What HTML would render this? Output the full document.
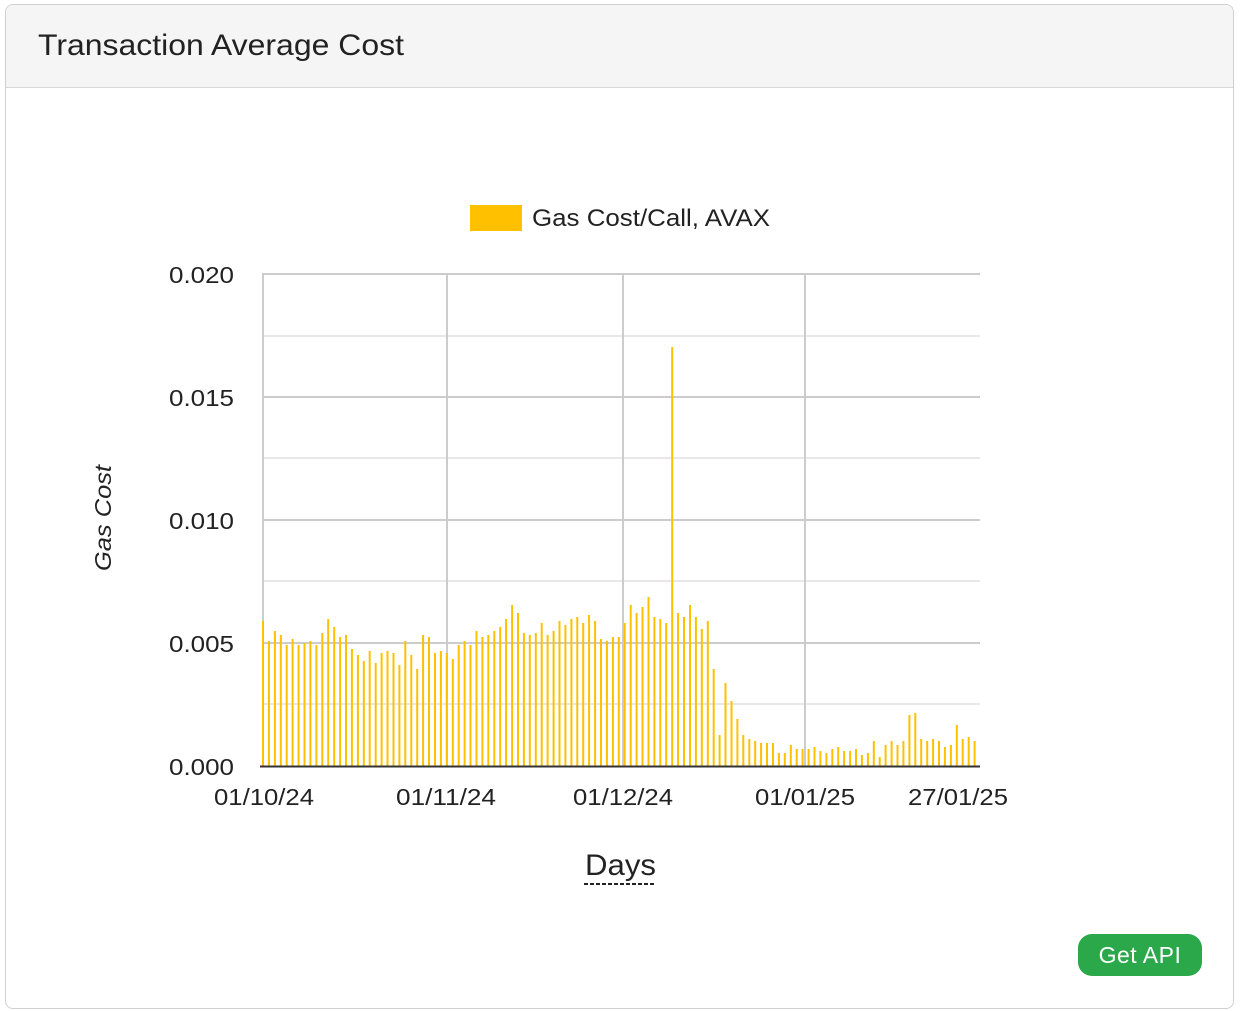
<!DOCTYPE html>
<html><head><style>
body{margin:0;background:#fff;font-family:"Liberation Sans",sans-serif;}
.card{position:absolute;left:5px;top:4px;width:1229px;height:1005px;border:1px solid #d0d0d0;border-radius:8px;overflow:hidden;box-sizing:border-box;}
.hdr{height:83px;background:#f5f5f5;border-bottom:1px solid #d8d8d8;box-sizing:border-box;}
.btn{position:absolute;left:1078px;top:934px;width:124px;height:42px;background:#2aa84a;border-radius:14px;color:#fff;font-size:23px;text-align:center;line-height:42px;letter-spacing:0.5px;}
svg{position:absolute;left:0;top:0;}
</style></head><body>
<div class="card"><div class="hdr"></div></div>
<svg width="1240" height="1011" id="s" font-family="Liberation Sans, sans-serif">
<text x="38" y="55" font-size="30" fill="#222" textLength="366" lengthAdjust="spacingAndGlyphs">Transaction Average Cost</text>
<g stroke="#e8e8e8" stroke-width="2">
<line x1="262" x2="980" y1="336" y2="336"/><line x1="262" x2="980" y1="458" y2="458"/><line x1="262" x2="980" y1="581" y2="581"/><line x1="262" x2="980" y1="704" y2="704"/>
</g>
<g stroke="#cccccc" stroke-width="2">
<line x1="262" x2="980" y1="274" y2="274"/><line x1="262" x2="980" y1="397" y2="397"/><line x1="262" x2="980" y1="520" y2="520"/><line x1="262" x2="980" y1="643" y2="643"/>
<line x1="263" x2="263" y1="274" y2="766"/><line x1="447" x2="447" y1="274" y2="766"/><line x1="623" x2="623" y1="274" y2="766"/><line x1="805" x2="805" y1="274" y2="766"/>
</g>
<g id="bars" fill="#ffc000"></g>
<line x1="260" x2="980" y1="766.5" y2="766.5" stroke="#333" stroke-width="2"/>
<g font-size="23" fill="#222">
<text x="169" y="283" textLength="65" lengthAdjust="spacingAndGlyphs">0.020</text>
<text x="169" y="406" textLength="65" lengthAdjust="spacingAndGlyphs">0.015</text>
<text x="169" y="529" textLength="65" lengthAdjust="spacingAndGlyphs">0.010</text>
<text x="169" y="652" textLength="65" lengthAdjust="spacingAndGlyphs">0.005</text>
<text x="169" y="775" textLength="65" lengthAdjust="spacingAndGlyphs">0.000</text>
</g>
<g font-size="23" fill="#222">
<text x="214" y="805" textLength="100" lengthAdjust="spacingAndGlyphs">01/10/24</text>
<text x="396" y="805" textLength="100" lengthAdjust="spacingAndGlyphs">01/11/24</text>
<text x="573" y="805" textLength="100" lengthAdjust="spacingAndGlyphs">01/12/24</text>
<text x="755" y="805" textLength="100" lengthAdjust="spacingAndGlyphs">01/01/25</text>
<text x="908" y="805" textLength="100" lengthAdjust="spacingAndGlyphs">27/01/25</text>
</g>
<text x="585" y="875" font-size="30" fill="#222" textLength="71" lengthAdjust="spacingAndGlyphs">Days</text>
<line x1="584" x2="656" y1="884" y2="884" stroke="#222" stroke-width="2" stroke-dasharray="4,2"/>
<text transform="translate(111,518) rotate(-90)" font-size="23" font-style="italic" fill="#222" text-anchor="middle" textLength="106" lengthAdjust="spacingAndGlyphs">Gas Cost</text>
<rect x="470" y="205" width="52" height="26" fill="#ffc000"/>
<text x="532" y="226" font-size="24" fill="#222" textLength="238" lengthAdjust="spacingAndGlyphs">Gas Cost/Call, AVAX</text>
</svg>
<div class="btn">Get API</div>
<script>
var ys=[621,641,631,635,645,639,645,643,641,645,633,619,627,637,635,649,655,661,651,663,653,651,653,665,641,655,669,635,637,653,651,653,659,645,641,645,631,637,635,631,627,619,
605,613,633,635,633,623,635,631,621,625,619,617,623,615,621,639,641,637,637,623,605,613,607,597,617,619,623,347,613,617,605,617,629,621,669,735,683,701,719,735,739,
741,743,743,743,753,753,745,749,749,749,747,751,753,749,747,751,751,749,755,753,741,757,745,741,745,741,715,713,739,741,739,741,747,745,725,739,737,741];
var g=document.getElementById('bars'),h='';
for(var i=0;i<ys.length;i++){var x=262+i*5.93;h+='<rect x="'+x.toFixed(1)+'" y="'+ys[i]+'" width="2" height="'+(766-ys[i])+'"/>';}
g.innerHTML=h;
</script>
</body></html>
